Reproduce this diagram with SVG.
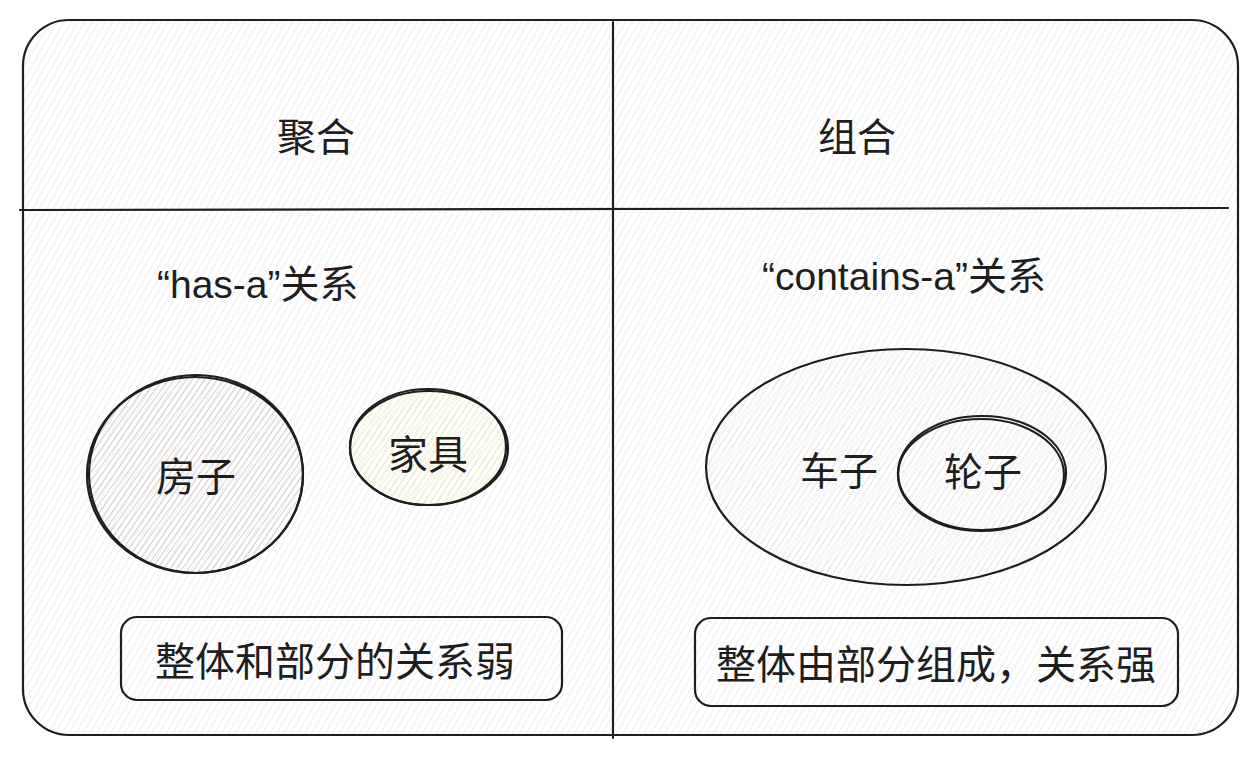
<svg xmlns="http://www.w3.org/2000/svg" width="1254" height="758" viewBox="0 0 1254 758">
<defs>
<pattern id="hatch" width="6" height="6" patternUnits="userSpaceOnUse" patternTransform="rotate(30)">
<line x1="0" y1="0" x2="0" y2="6" stroke="#dadada" stroke-width="0.9"/>
</pattern>
<pattern id="hatchHouse" width="5" height="5" patternUnits="userSpaceOnUse" patternTransform="rotate(35)">
<line x1="0" y1="0" x2="0" y2="5" stroke="#c7b9b9" stroke-width="1.4"/>
</pattern>
<pattern id="hatchYellow" width="5" height="5" patternUnits="userSpaceOnUse" patternTransform="rotate(35)">
<line x1="0" y1="0" x2="0" y2="5" stroke="#ebe9a6" stroke-width="1.5"/>
</pattern>
<pattern id="hatchCar" width="5" height="5" patternUnits="userSpaceOnUse" patternTransform="rotate(35)">
<line x1="0" y1="0" x2="0" y2="5" stroke="#dcdcdc" stroke-width="1"/>
</pattern>
</defs>
<style>
.ln{fill:none;stroke:#1e1e1e;stroke-width:2.2;stroke-linecap:round}
.sh{stroke:#1e1e1e;stroke-width:2.2}
.t{font-family:"Liberation Sans","Noto Sans CJK SC",sans-serif;fill:#1e1e1e}
</style>
<rect width="1254" height="758" fill="#ffffff"/>
<g id="frame">
<rect x="23" y="20" width="1215" height="715" rx="46" fill="url(#hatch)" class="sh"/>
<line x1="613" y1="22" x2="613" y2="738" class="ln"/>
<line x1="20" y1="210" x2="1228" y2="208" class="ln"/>
</g>
<g id="title-aggregation"><text class="t" x="316" y="151" font-size="39" text-anchor="middle">聚合</text></g>
<g id="title-composition"><text class="t" x="857" y="151" font-size="39" text-anchor="middle">组合</text></g>
<g id="label-hasa"><text class="t" x="157" y="298" font-size="39">“has-a”关系</text></g>
<g id="label-containsa"><text class="t" x="762" y="290" font-size="39">“contains-a”关系</text></g>
<g id="house">
<ellipse cx="195" cy="475" rx="108" ry="98" fill="url(#hatchHouse)" class="sh"/>
<ellipse cx="196" cy="474" rx="107" ry="99" class="ln" stroke-width="1"/>
<text class="t" x="196" y="491" font-size="40" text-anchor="middle">房子</text>
</g>
<g id="furniture">
<ellipse cx="429" cy="448" rx="79" ry="57" fill="url(#hatchYellow)" class="sh"/>
<ellipse cx="428" cy="447" rx="78" ry="58" class="ln" stroke-width="1"/>
<text class="t" x="428" y="469" font-size="40" text-anchor="middle">家具</text>
</g>
<g id="car">
<ellipse cx="906" cy="467" rx="200" ry="118" fill="url(#hatchCar)" class="sh"/>
<text class="t" x="839" y="485" font-size="39" text-anchor="middle">车子</text>
</g>
<g id="wheel">
<ellipse cx="982" cy="473" rx="84" ry="57" fill="none" class="sh"/>
<ellipse cx="981" cy="475" rx="83" ry="56" class="ln" stroke-width="1"/>
<text class="t" x="983" y="486" font-size="39" text-anchor="middle">轮子</text>
</g>
<g id="note-weak">
<rect x="121" y="617" width="441" height="83" rx="16" fill="none" class="sh"/>
<text class="t" x="335" y="676" font-size="40" text-anchor="middle" stroke="#ffffff" stroke-width="1" paint-order="stroke">整体和部分的关系弱</text>
</g>
<g id="note-strong">
<rect x="695" y="618" width="483" height="88" rx="16" fill="none" class="sh"/>
<text class="t" x="936" y="679" font-size="40" text-anchor="middle">整体由部分组成，关系强</text>
</g>
<g id="connectors"></g>
</svg>
